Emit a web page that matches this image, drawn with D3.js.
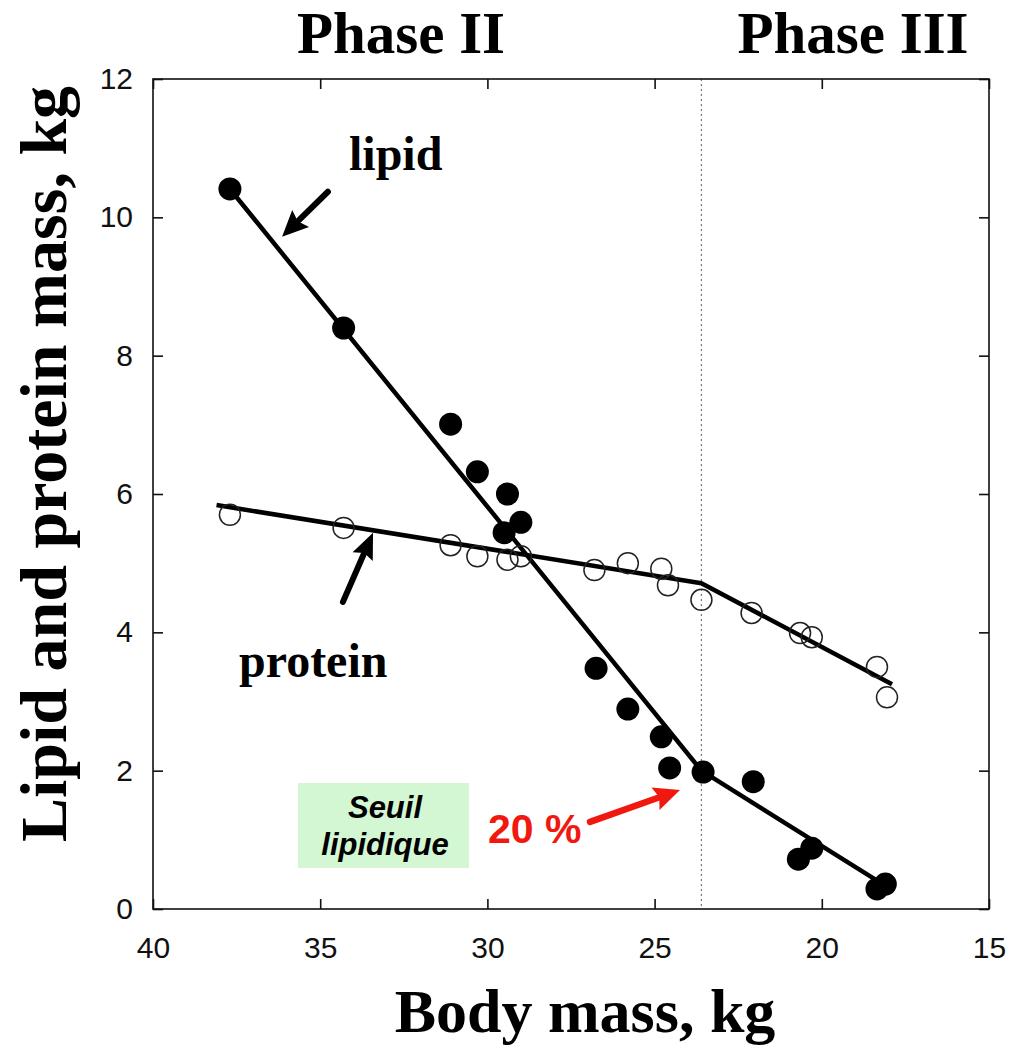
<!DOCTYPE html>
<html><head><meta charset="utf-8">
<script src="https://cdn.jsdelivr.net/npm/d3@7"></script>
<style>
html,body{margin:0;padding:0;background:#fff;}
svg{display:block;}
</style></head>
<body>
<svg id="chart" width="1014" height="1053"></svg>
<script>
// ---- data ----
const xTicks = [40, 35, 30, 25, 20, 15];
const yTicks = [0, 2, 4, 6, 8, 10, 12];
const lipidX = [37.7, 34.3, 31.1, 30.3, 29.4, 29.0, 29.5, 26.75, 25.8, 24.8, 24.55, 23.55, 22.05, 20.7, 20.3, 18.35, 18.1];
const lipidY = [10.41, 8.40, 7.01, 6.32, 6.00, 5.59, 5.44, 3.48, 2.89, 2.49, 2.04, 1.98, 1.84, 0.72, 0.88, 0.29, 0.36];
const proteinX = [37.7, 34.3, 31.1, 30.3, 29.4, 29.0, 26.8, 25.8, 24.8, 24.6, 23.6, 22.1, 20.65, 20.3, 18.35, 18.05];
const proteinY = [5.70, 5.51, 5.26, 5.10, 5.05, 5.10, 4.90, 5.00, 4.92, 4.68, 4.47, 4.28, 3.99, 3.93, 3.50, 3.06];
const lipidFitX = [37.7, 23.6, 18.25];
const lipidFitY = [10.41, 2.0, 0.38];
const proteinFitX = [38.1, 23.6, 17.9];
const proteinFitY = [5.84, 4.71, 3.25];
const phaseBoundary = 23.6;
const phaseLabels = ["Phase II", "Phase III"];
const xTitle = "Body mass, kg";
const yTitle = "Lipid and protein mass, kg";

// ---- layout ----
const svg = d3.select("#chart");
const L = 153, R = 989, T = 79, B = 909;
const x = d3.scaleLinear().domain([40, 15]).range([L, R]);
const y = d3.scaleLinear().domain([0, 12]).range([B, T]);
const serif = "'Liberation Serif','Times New Roman',serif";
const sans = "'Liberation Sans',Arial,sans-serif";

// dotted phase boundary
svg.append("line")
  .attr("x1", x(phaseBoundary)).attr("x2", x(phaseBoundary))
  .attr("y1", T).attr("y2", B)
  .attr("stroke", "#777").attr("stroke-width", 1.2)
  .attr("stroke-dasharray", "2,3");

// axes
const gB = svg.append("g").attr("transform", `translate(0,${B})`)
  .call(d3.axisBottom(x).tickValues(xTicks).tickSizeInner(-10).tickSizeOuter(0).tickPadding(28).tickFormat(d3.format("d")));
const gL = svg.append("g").attr("transform", `translate(${L},0)`)
  .call(d3.axisLeft(y).tickValues(yTicks).tickSizeInner(-10).tickSizeOuter(0).tickPadding(20).tickFormat(d3.format("d")));
const gT = svg.append("g").attr("transform", `translate(0,${T})`)
  .call(d3.axisTop(x).tickValues(xTicks).tickSizeInner(-10).tickSizeOuter(0).tickFormat(""));
const gR = svg.append("g").attr("transform", `translate(${R},0)`)
  .call(d3.axisRight(y).tickValues(yTicks).tickSizeInner(-10).tickSizeOuter(0).tickFormat(""));
[gB, gL, gT, gR].forEach(g => {
  g.select(".domain").remove();
  g.selectAll(".tick line").attr("stroke", "#111").attr("stroke-width", 1.6);
  g.selectAll("text").attr("font-family", sans).attr("font-size", 30).attr("fill", "#111");
});
svg.append("rect").attr("x", L).attr("y", T).attr("width", R - L).attr("height", B - T)
  .attr("fill", "none").attr("stroke", "#111").attr("stroke-width", 1.6);

// fit lines
const line = d3.line().x(d => x(d[0])).y(d => y(d[1]));
svg.append("path").datum(d3.zip(lipidFitX, lipidFitY)).attr("d", line)
  .attr("fill", "none").attr("stroke", "#000").attr("stroke-width", 4.5).attr("stroke-linejoin", "round");
svg.append("path").datum(d3.zip(proteinFitX, proteinFitY)).attr("d", line)
  .attr("fill", "none").attr("stroke", "#000").attr("stroke-width", 4.5).attr("stroke-linejoin", "round");

// points
svg.append("g").selectAll("circle").data(d3.zip(proteinX, proteinY)).join("circle")
  .attr("cx", d => x(d[0])).attr("cy", d => y(d[1])).attr("r", 10.5)
  .attr("fill", "none").attr("stroke", "#222").attr("stroke-width", 1.5);
svg.append("g").selectAll("circle").data(d3.zip(lipidX, lipidY)).join("circle")
  .attr("cx", d => x(d[0])).attr("cy", d => y(d[1])).attr("r", 11.5)
  .attr("fill", "#000");

// arrows
function arrow(x0, y0, x1, y1, color, w, hl, hw) {
  const X0 = x(x0), Y0 = y(y0), X1 = x(x1), Y1 = y(y1);
  const a = Math.atan2(Y1 - Y0, X1 - X0);
  const bx = X1 - hl * Math.cos(a), by = Y1 - hl * Math.sin(a);
  svg.append("line").attr("x1", X0).attr("y1", Y0).attr("x2", bx + 2 * Math.cos(a)).attr("y2", by + 2 * Math.sin(a))
    .attr("stroke", color).attr("stroke-width", w).attr("stroke-linecap", "round");
  const px = -Math.sin(a), py = Math.cos(a);
  svg.append("path")
    .attr("d", `M${X1},${Y1}L${bx + px * hw / 2},${by + py * hw / 2}L${bx + 4 * Math.cos(a)},${by + 4 * Math.sin(a)}L${bx - px * hw / 2},${by - py * hw / 2}Z`)
    .attr("fill", color);
}
arrow(34.77, 10.37, 36.14, 9.72, "#000", 6, 26, 24);
arrow(34.32, 4.44, 33.42, 5.44, "#000", 6, 26, 22);
arrow(26.93, 1.26, 24.24, 1.72, "#f0180f", 6.5, 26, 24);

// labels
svg.append("text").attr("x", 401).attr("y", 53).attr("text-anchor", "middle")
  .attr("font-family", serif).attr("font-weight", "bold").attr("font-size", 59).text(phaseLabels[0]);
svg.append("text").attr("x", 853).attr("y", 53).attr("text-anchor", "middle")
  .attr("font-family", serif).attr("font-weight", "bold").attr("font-size", 59).text(phaseLabels[1]);
svg.append("text").attr("x", 349).attr("y", 170)
  .attr("font-family", serif).attr("font-weight", "bold").attr("font-size", 48).text("lipid");
svg.append("text").attr("x", 239).attr("y", 677)
  .attr("font-family", serif).attr("font-weight", "bold").attr("font-size", 48).text("protein");
svg.append("text").attr("x", 585).attr("y", 1032).attr("text-anchor", "middle")
  .attr("font-family", serif).attr("font-weight", "bold").attr("font-size", 62).text(xTitle);
svg.append("text").attr("transform", "translate(66,464) rotate(-90)").attr("text-anchor", "middle")
  .attr("font-family", serif).attr("font-weight", "bold").attr("font-size", 66).text(yTitle);

// Seuil lipidique box
svg.append("rect").attr("x", 298).attr("y", 783).attr("width", 171).attr("height", 85).attr("fill", "#d3f7d3");
svg.append("text").attr("x", 385).attr("y", 818).attr("text-anchor", "middle")
  .attr("font-family", sans).attr("font-weight", "bold").attr("font-style", "italic").attr("font-size", 31).text("Seuil");
svg.append("text").attr("x", 385).attr("y", 855).attr("text-anchor", "middle")
  .attr("font-family", sans).attr("font-weight", "bold").attr("font-style", "italic").attr("font-size", 31).text("lipidique");
svg.append("text").attr("x", 488).attr("y", 843)
  .attr("font-family", sans).attr("font-weight", "bold").attr("font-size", 41).attr("fill", "#f0180f").text("20 %");
</script>
</body></html>
